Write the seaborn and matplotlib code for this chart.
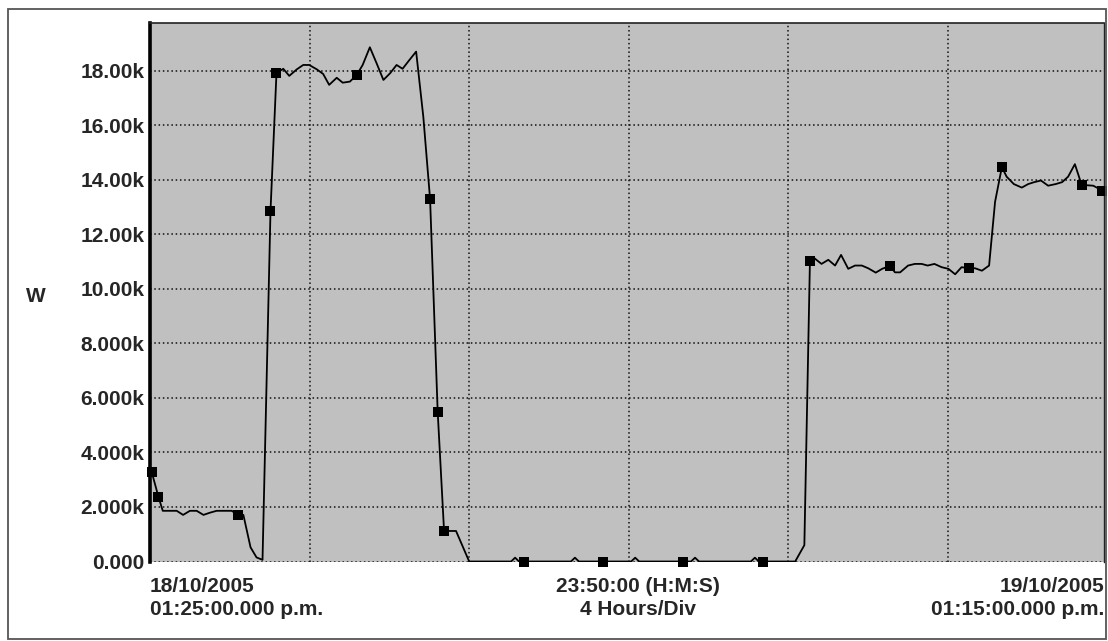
import numpy as np
import pandas as pd
import matplotlib.pyplot as plt
import seaborn as sns
from matplotlib.patches import Rectangle

# ======================================
# Data (hours since 18/10/2005 13:25, watts)
# ======================================

hours = [0.04, 0.21, 0.32, 0.67, 0.83, 1.00, 1.17, 1.34, 1.50, 1.67, 1.84, 2.05, 2.20, 2.34,
         2.52, 2.67, 2.82, 3.02, 3.17, 3.34, 3.49, 3.68, 3.84, 3.99, 4.18, 4.34, 4.49, 4.68,
         4.83, 5.01, 5.18, 5.33, 5.51, 5.68, 5.85, 6.02, 6.18, 6.33, 6.50, 6.67, 6.85, 7.02,
         7.21, 7.37, 7.67, 8.00,
         9.05, 9.15, 9.25, 10.55, 10.65, 10.75, 12.06, 12.16, 12.26, 13.56, 13.66, 13.76,
         15.06, 15.16, 15.26, 16.17, 16.40, 16.54,
         16.65, 16.83, 17.00, 17.17, 17.32, 17.50, 17.67, 17.84, 18.00, 18.19, 18.35, 18.55,
         18.67, 18.80, 19.00, 19.17, 19.34, 19.49, 19.66, 19.84, 20.01, 20.18, 20.34, 20.53,
         20.68, 20.85, 21.03, 21.18, 21.35, 21.47, 21.65, 21.85, 22.01, 22.16, 22.33, 22.51,
         22.70, 22.86, 23.01, 23.18, 23.35, 23.64, 23.87]

watts = [3300, 2380, 1860, 1860, 1710, 1860, 1860, 1710, 1790, 1860, 1860, 1860, 1710, 1710,
         520, 150, 60, 12860, 17920, 18080, 17820, 18060, 18220, 18220, 18060, 17890, 17490,
         17750, 17570, 17610, 17850, 18220, 18870, 18280, 17670, 17920, 18220, 18080, 18400,
         18710, 16320, 13290, 5500, 1120, 1120, 0,
         0, 140, 0, 0, 140, 0, 0, 140, 0, 0, 140, 0,
         0, 140, 0, 0, 600, 11030,
         11130, 10920, 11070, 10860, 11250, 10740, 10860, 10860, 10760, 10600, 10740, 10850,
         10610, 10610, 10860, 10920, 10920, 10860, 10920, 10800, 10740, 10540, 10800, 10760,
         10760, 10670, 10860, 13200, 14470, 14120, 13850, 13720, 13850, 13920, 13980, 13790,
         13850, 13920, 14120, 14580, 13820, 13790, 13610]

marker_hours = [0.04, 0.21, 2.20, 3.02, 3.17, 5.18, 7.02, 7.21, 7.37, 9.37, 11.35, 13.35,
                15.37, 16.54, 18.55, 20.53, 21.35, 23.35, 23.87]
marker_watts = [3300, 2380, 1710, 12860, 17920, 17850, 13290, 5500, 1120, 0, 0, 0,
                0, 11030, 10850, 10760, 14470, 13820, 13610]

ytick_vals = [0, 2000, 4000, 6000, 8000, 10000, 12000, 14000, 16000, 18000]
ytick_labels = ['0.000', '2.000k', '4.000k', '6.000k', '8.000k',
                '10.00k', '12.00k', '14.00k', '16.00k', '18.00k']

left_label = '18/10/2005\n01:25:00.000 p.m.'
mid_label = '23:50:00 (H:M:S)\n4 Hours/Div'
right_label = '19/10/2005\n01:15:00.000 p.m.'

df = pd.DataFrame({'hours': hours, 'watts': watts})
mk = pd.DataFrame({'hours': marker_hours, 'watts': marker_watts})

# ======================================
# Plot
# ======================================

sns.set_style('white')
plt.rcParams['font.family'] = ['Liberation Sans', 'DejaVu Sans']
plt.rcParams['font.weight'] = 'bold'

W, H = 1108, 641
fig = plt.figure(figsize=(W / 100, H / 100), dpi=100)
ax = fig.add_axes([150 / W, 1 - 561.5 / H, (1104 - 150) / W, (561.5 - 23) / H])
ax.set_facecolor('#c0c0c0')

sns.lineplot(data=df, x='hours', y='watts', ax=ax, color='black', linewidth=1.3, zorder=4)
sns.scatterplot(data=mk, x='hours', y='watts', ax=ax, marker='s', s=48, color='black',
                edgecolor='black', linewidth=0, zorder=5, clip_on=False)

ax.set_xlim(0, 23.91)
ax.set_ylim(0, 19760)
ax.set_xticks(np.arange(0, 24, 4))
ax.set_yticks(ytick_vals)
ax.set_yticklabels(ytick_labels, fontsize=15, fontweight='bold')
ax.tick_params(axis='both', length=0, pad=4)
ax.tick_params(axis='x', labelbottom=False)
ax.set_xlabel('')
ax.set_ylabel('')
ax.grid(True, color='#111111', linestyle=(0, (1, 1.8)), linewidth=1.1)
ax.set_axisbelow(True)

ax.spines['left'].set_linewidth(2.6)
ax.spines['left'].set_color('black')
ax.spines['top'].set_linewidth(1.2)
ax.spines['top'].set_color('#222222')
ax.spines['right'].set_linewidth(1.0)
ax.spines['right'].set_color('#222222')
ax.spines['bottom'].set_visible(False)

# texts below the plot
fig.text(150 / W, 1 - 577 / H, left_label, ha='left', va='top', fontsize=15,
         fontweight='bold', linespacing=1.25)
fig.text(638 / W, 1 - 577 / H, mid_label, ha='center', va='top', fontsize=15,
         fontweight='bold', linespacing=1.25, multialignment='center')
fig.text(1104 / W, 1 - 577 / H, right_label, ha='right', va='top', fontsize=15,
         fontweight='bold', linespacing=1.25, multialignment='right')
fig.text(36 / W, 1 - 297 / H, 'W', ha='center', va='center', fontsize=15, fontweight='bold')

# outer frame
fig.patches.append(Rectangle((8 / W, 1 - 639 / H), (1106 - 8) / W, (639 - 9) / H,
                             transform=fig.transFigure, fill=False,
                             edgecolor='#555555', linewidth=1.3))

fig.savefig('out.png', dpi=100)
